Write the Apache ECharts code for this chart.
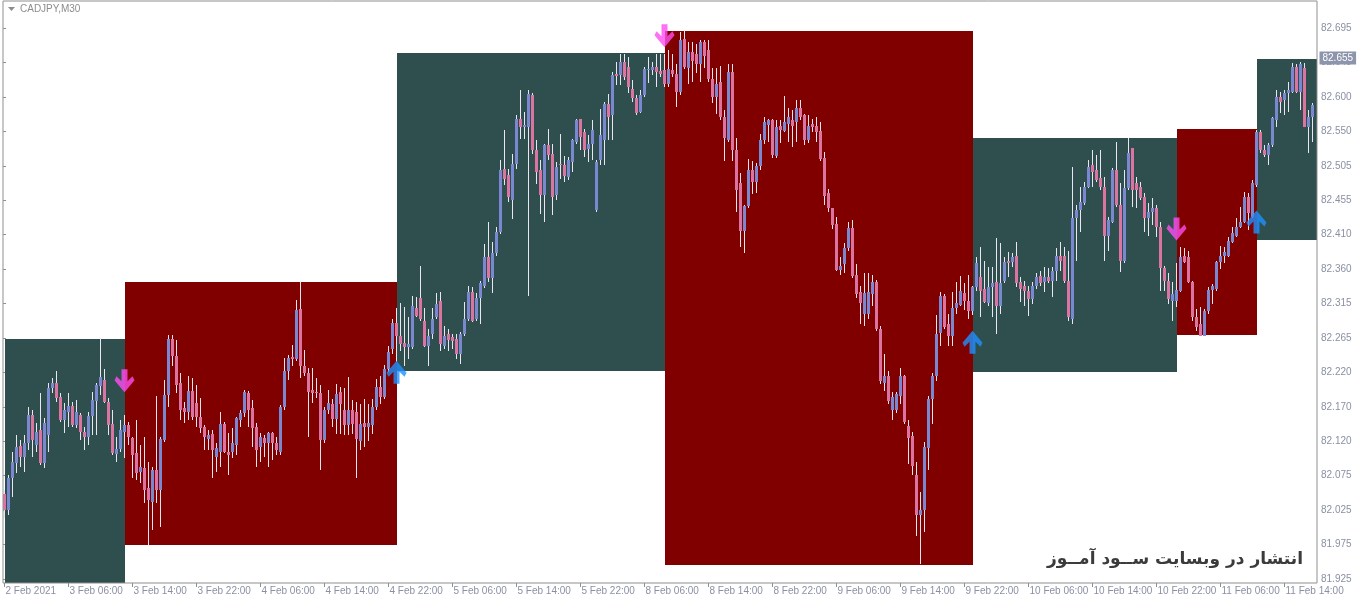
<!DOCTYPE html>
<html>
<head>
<meta charset="utf-8">
<script src="https://cdn.jsdelivr.net/npm/echarts@6/dist/echarts.min.js"></script>
<style>
html,body{margin:0;padding:0;background:#fff;}
#chart{width:1360px;height:600px;}
</style>
</head>
<body>
<div id="chart"></div>
<script>
// ---- tick labels ----
const xLabels = ['2 Feb 2021','3 Feb 06:00','3 Feb 14:00','3 Feb 22:00','4 Feb 06:00','4 Feb 14:00','4 Feb 22:00',
  '5 Feb 06:00','5 Feb 14:00','5 Feb 22:00','8 Feb 06:00','8 Feb 14:00','8 Feb 22:00','9 Feb 06:00','9 Feb 14:00',
  '9 Feb 22:00','10 Feb 06:00','10 Feb 14:00','10 Feb 22:00','11 Feb 06:00','11 Feb 14:00'];
const yLabels = ['81.925','81.975','82.025','82.075','82.120','82.170','82.220','82.265','82.315','82.360',
  '82.410','82.455','82.505','82.550','82.600','82.645','82.695'];

// ---- CADJPY M30 candles, in points above 82.000 (price = 82 + pts/1000) ----
const openPts = [44,22,66,87,111,96,115,154,112,133,87,126,192,199,180,147,159,167,140,154,
131,124,153,174,195,203,173,142,100,106,131,140,122,101,75,80,52,33,78,50,
119,182,261,236,199,164,158,188,171,152,138,120,128,96,102,142,103,103,112,147,
157,185,164,138,110,122,115,129,115,103,166,215,235,232,302,222,213,189,187,185,
119,161,170,149,186,161,140,161,158,118,143,137,140,165,193,179,219,247,283,264,
255,249,249,303,317,286,251,268,291,313,251,267,263,261,239,268,289,326,289,317,
335,375,345,380,410,498,489,454,505,568,556,557,601,524,496,461,531,519,461,505,
503,487,508,536,568,550,526,533,440,510,538,589,573,631,629,648,641,610,597,578,
601,636,636,641,635,636,617,636,631,606,680,639,661,659,644,676,664,624,598,620,
571,539,634,524,478,411,446,497,480,502,539,560,566,516,558,551,561,566,563,583,
573,539,561,558,551,514,465,443,421,357,365,387,416,350,326,296,295,323,340,274,
199,208,161,161,181,208,139,125,71,14,22,108,176,208,269,321,282,264,304,308,
325,313,299,333,347,330,310,333,340,307,342,370,368,377,340,335,328,316,335,349,
340,347,342,356,377,377,342,288,429,440,450,473,503,496,485,473,405,424,496,447,
370,471,527,478,473,459,429,438,443,417,359,342,314,314,328,377,375,340,291,281,
265,300,329,330,368,377,377,396,405,417,424,459,431,475,550,524,517,531,567,599,
595,604,606,641,606,639,557,571];
const highPts = [50,70,103,126,119,126,166,161,143,185,150,199,206,215,185,171,185,173,175,157,
138,159,187,199,262,218,178,161,124,147,154,145,124,147,112,124,89,82,181,124,
203,266,266,259,213,173,208,206,196,178,140,133,133,115,158,145,129,136,152,161,
189,188,175,143,129,126,131,131,124,168,234,238,252,315,341,245,220,220,206,196,
166,189,177,198,193,192,207,175,172,170,177,170,177,205,209,224,251,289,303,310,
305,291,321,319,363,303,275,303,324,326,279,275,268,268,270,312,335,333,324,342,
393,424,396,417,510,552,498,519,573,608,578,608,604,538,510,533,554,533,508,547,
516,515,540,568,568,554,545,566,510,582,591,603,633,648,659,659,655,622,601,608,
641,655,648,659,659,659,664,659,645,690,692,676,676,673,678,678,678,639,639,642,
580,644,644,541,492,448,512,509,507,547,570,568,568,566,566,600,583,580,595,595,
575,573,568,571,563,522,470,443,431,375,394,424,426,365,335,353,353,350,343,279,
240,215,186,186,220,210,147,130,88,46,117,181,213,294,326,323,296,326,340,348,
338,350,335,375,389,370,361,361,401,394,375,382,380,396,347,342,335,340,352,356,
361,359,361,387,396,389,384,501,447,473,480,510,524,517,524,487,431,499,536,478,
496,541,527,487,480,464,450,457,447,424,363,352,340,366,389,387,384,342,302,305,
302,333,337,370,391,389,403,417,429,445,466,464,482,552,552,531,534,571,609,606,
609,620,646,644,648,646,581,590];
const lowPts = [10,15,40,73,82,75,105,96,103,84,80,103,185,173,145,129,138,138,136,119,
105,112,126,126,182,171,126,98,89,102,94,112,66,64,59,31,-27,-6,31,-2,
117,166,222,185,147,143,147,147,138,129,105,105,66,75,82,101,71,94,98,138,
152,138,110,82,89,96,82,91,98,98,161,203,222,229,206,208,124,171,178,77,
115,155,137,128,128,126,126,128,66,105,110,118,128,161,170,177,214,240,228,244,
223,233,247,291,286,249,223,261,289,244,247,244,247,233,226,265,286,284,286,282,
331,340,324,377,407,475,452,428,498,540,540,321,519,477,435,424,510,433,454,484,
480,482,494,533,524,515,508,510,438,503,503,538,538,615,615,622,604,592,573,576,
599,618,629,613,627,613,613,627,585,601,638,617,620,632,620,639,620,590,575,566,
509,536,509,438,389,380,443,463,465,497,533,536,514,514,534,549,536,529,536,566,
531,534,549,536,509,448,438,414,355,350,353,384,345,318,281,279,289,306,272,198,
188,169,147,157,169,142,85,71,-15,-54,-10,78,142,201,250,274,250,250,296,306,
301,289,294,328,291,310,307,291,267,295,338,347,361,333,312,307,293,309,330,335,
326,338,319,342,356,338,286,281,370,410,447,471,473,480,468,370,384,422,445,354,
366,468,445,443,454,410,405,419,403,328,328,309,286,305,326,366,338,286,272,265,
265,295,309,328,358,366,375,394,403,415,422,412,429,473,520,515,503,529,557,576,
574,578,604,604,581,557,520,536];
const closePts = [22,66,89,110,96,115,154,119,131,87,143,192,199,178,147,161,167,140,159,131,
124,153,175,196,207,173,140,101,106,133,140,124,98,73,82,50,36,77,50,120,
182,261,236,196,161,159,188,152,152,136,124,126,105,108,142,103,98,115,150,157,
187,161,136,105,124,115,129,115,105,166,215,234,232,301,222,213,187,185,185,119,
161,171,149,184,170,140,161,142,120,142,137,143,165,193,179,219,242,283,264,254,
249,254,307,293,289,251,265,289,309,254,265,259,258,239,268,289,326,286,317,338,
375,345,380,410,496,484,459,505,568,557,559,603,524,494,461,531,517,459,501,503,
488,510,538,567,543,524,533,552,508,545,589,570,629,628,648,627,613,597,576,601,
638,638,641,634,631,617,637,631,606,678,641,661,649,644,676,656,624,598,617,571,
541,634,524,468,411,446,497,480,502,539,563,566,517,556,553,563,570,558,583,571,
539,558,556,549,512,460,443,419,357,362,387,416,348,323,311,325,326,340,274,201,
208,174,179,183,208,144,122,83,14,22,110,176,208,267,321,277,264,304,311,327,
313,299,333,367,328,312,333,338,307,338,368,366,375,338,330,328,316,335,347,338,
347,342,356,377,370,342,291,429,440,452,473,501,494,482,473,405,426,496,447,370,
471,520,468,468,457,429,438,443,417,359,342,316,323,329,375,368,340,291,277,265,
300,329,335,368,377,382,398,408,417,424,459,436,478,550,524,517,531,569,599,592,
604,609,641,606,644,557,571,588];

// ---- rectangles drawn by the indicator (bar index range, price range) ----
const boxStartBar = [0, 30, 98, 165, 242, 293, 313];
const boxEndBar   = [30, 98, 165, 242, 293, 313, 328];
const boxTop      = [82.260, 82.340, 82.660, 82.691, 82.541, 82.554, 82.652];
const boxBottom   = [81.880, 81.9725, 82.216, 81.945, 82.214, 82.266, 82.399];
const boxIsUp     = [true, false, true, false, true, false, true];

// ---- signal arrows ----
const downArrowBar = [30, 165, 293];
const downArrowPrice = [82.202, 82.684, 82.414];
const upArrowBar = [98, 242, 313];
const upArrowPrice = [82.214, 82.256, 82.424];

const lastPrice = 82.655;
const symbolName = 'CADJPY,M30';

// ---------------------------------------------------------------
const N = openPts.length;
const cats = [];
for (let i = 0; i <= N; i++) cats.push(String(i));
const candleData = openPts.map((o, i) => [i, 82 + o / 1000, 82 + closePts[i] / 1000, 82 + lowPts[i] / 1000, 82 + highPts[i] / 1000]);
const boxData = boxStartBar.map((s, i) => [s, boxEndBar[i], boxTop[i], boxBottom[i], boxIsUp[i] ? 1 : 0]);
const downData = downArrowBar.map((b, i) => [b, downArrowPrice[i]]);
const upData = upArrowBar.map((b, i) => [b, upArrowPrice[i]]);

const C_TEAL = '#2f4f4f', C_MAROON = '#800000';
const C_BULL = '#7a88d2', C_BEAR = '#dc74a2', C_WICK = '#ece6f2';
const C_TXT = '#8a90a4', C_FRAME = '#8f8f8f';

const downPath = 'path://M7,0 L13,0 L13,12 L18,7 L20,11 L10,23 L0,11 L2,7 L7,12 Z';
const upPath = 'path://M7,23 L13,23 L13,11 L18,16 L20,12 L10,0 L0,12 L2,16 L7,11 Z';

const chart = echarts.init(document.getElementById('chart'), null, {renderer: 'canvas'});
const isLabelIdx = (idx) => idx % 16 === 0;

const option = {
  animation: false,
  backgroundColor: '#ffffff',
  grid: [
    {left: 2.5, right: 41.5, top: 1, bottom: 17},            // data grid
    {left: 3, right: 43, top: 1, bottom: 17, show: true, borderColor: C_FRAME, borderWidth: 1, backgroundColor: 'transparent', z: 10}, // frame
    {left: 3, right: 43, top: 28, bottom: 21}                // price labels
  ],
  xAxis: [
    {type: 'category', gridIndex: 0, data: cats, boundaryGap: true,
     axisLine: {show: false},
     axisTick: {show: true, alignWithLabel: true, interval: isLabelIdx, length: 4, lineStyle: {color: C_FRAME}},
     axisLabel: {interval: isLabelIdx, formatter: (v, idx) => xLabels[idx / 16] || '', align: 'left',
       color: C_TXT, fontSize: 10, fontFamily: 'Liberation Sans', margin: 3, padding: [0, 0, 0, 1]},
     splitLine: {show: false}},
    {type: 'value', gridIndex: 1, show: false},
    {type: 'value', gridIndex: 2, show: false}
  ],
  yAxis: [
    {type: 'value', gridIndex: 0, min: 81.9194, max: 82.7327, show: false, splitLine: {show: false}},
    {type: 'value', gridIndex: 1, show: false},
    {type: 'value', gridIndex: 2, position: 'right', min: 0, max: yLabels.length - 1, interval: 1,
     axisLine: {show: false}, splitLine: {show: false},
     axisTick: {show: true, length: 3, lineStyle: {color: C_FRAME}},
     axisLabel: {formatter: (v) => yLabels[Math.round(v)] || '', color: C_TXT, fontSize: 10, fontFamily: 'Liberation Sans', margin: 4}}
  ],
  graphic: [
    {type: 'polygon', shape: {points: [[8, 7], [15, 7], [11.5, 11]]}, style: {fill: '#8c8c8c'}},
    {type: 'text', left: 20, top: 4, style: {text: symbolName, fill: '#8c8c8c', font: '10px "Liberation Sans"'}},
    {type: 'text', right: 57, top: 551, z: 100,
     style: {text: 'انتشار در وبسایت ســود آمــوز', fill: '#3b3b3b', font: 'bold 17px "DejaVu Sans"'}}
  ],
  series: [
    {
      type: 'custom', name: 'boxes', xAxisIndex: 0, yAxisIndex: 0, z: 1, silent: true,
      data: boxData,
      renderItem: function (params, api) {
        const p1 = api.coord([api.value(0), api.value(2)]);
        const p2 = api.coord([api.value(1), api.value(3)]);
        const x0 = Math.round(p1[0]), x1 = Math.round(p2[0]);
        const shape = echarts.graphic.clipRectByRect(
          {x: x0, y: Math.round(p1[1]), width: x1 - x0, height: Math.round(p2[1]) - Math.round(p1[1])},
          {x: params.coordSys.x + 1.5, y: params.coordSys.y, width: params.coordSys.width - 3, height: params.coordSys.height});
        return shape && {type: 'rect', shape: shape, style: {fill: api.value(4) ? C_TEAL : C_MAROON}};
      }
    },
    {
      type: 'custom', name: symbolName, xAxisIndex: 0, yAxisIndex: 0, z: 3, silent: true,
      data: candleData,
      renderItem: function (params, api) {
        const i = api.value(0);
        const o = api.value(1), c = api.value(2), l = api.value(3), h = api.value(4);
        const x = api.coord([i, o])[0];
        const yO = api.coord([i, o])[1], yC = api.coord([i, c])[1];
        const yL = api.coord([i, l])[1], yH = api.coord([i, h])[1];
        const top = Math.round(Math.min(yO, yC)), bot = Math.round(Math.max(yO, yC));
        return {
          type: 'group',
          children: [
            {type: 'line', shape: {x1: x, y1: Math.round(yH), x2: x, y2: Math.round(yL)}, style: {stroke: C_WICK, lineWidth: 1}},
            {type: 'rect', shape: {x: x - 1.5, y: top, width: 3, height: Math.max(1, bot - top)},
             style: {fill: c >= o ? C_BULL : C_BEAR}}
          ]
        };
      }
    },
    {
      type: 'line', name: 'bid', xAxisIndex: 0, yAxisIndex: 0, z: 20, silent: true,
      data: [], showSymbol: false,
      markLine: {
        silent: true, symbol: 'none', animation: false,
        lineStyle: {color: 'rgba(0,0,0,0)', width: 0},
        data: [{yAxis: lastPrice}],
        label: {show: true, position: 'end', distance: 1, offset: [0, 5], formatter: lastPrice.toFixed(3),
          backgroundColor: '#8d95ad', color: '#ffffff', fontSize: 10, fontFamily: 'Liberation Sans', padding: [2, 3, 1, 3]}
      }
    },
    {type: 'scatter', name: 'sell', xAxisIndex: 0, yAxisIndex: 0, z: 5, silent: true,
     data: downData, symbol: downPath, symbolSize: [20, 23], itemStyle: {color: '#ff4cf0'}},
    {type: 'scatter', name: 'buy', xAxisIndex: 0, yAxisIndex: 0, z: 5, silent: true,
     data: upData, symbol: upPath, symbolSize: [20, 23], itemStyle: {color: '#1e90ff'}}
  ]
};
chart.setOption(option);
</script>
</body>
</html>
